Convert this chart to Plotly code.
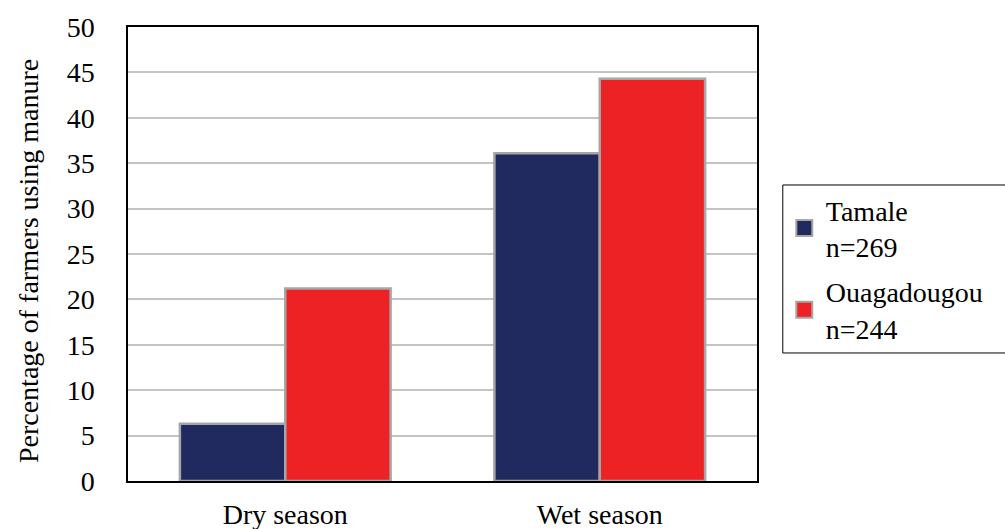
import plotly.graph_objects as go

# Share of farmers using manure, by season and city
seasons = ["Dry season", "Wet season"]
tamale = [6.3, 36.1]
ouagadougou = [21.2, 44.3]
legend_labels = ["Tamale<br>n=269", "Ouagadougou<br>n=244"]
y_title = "Percentage of farmers using manure"

navy = "#202a5e"
red = "#ed2224"
edge = "#a6a6a6"
font_family = "Liberation Serif"
fsize = 28

fig = go.Figure()
for name, vals, col in [("Tamale", tamale, navy), ("Ouagadougou", ouagadougou, red)]:
    fig.add_trace(go.Bar(
        x=seasons, y=vals, name=name, showlegend=False,
        marker=dict(color=col, line=dict(color=edge, width=2.5)),
    ))

# Legend entries with larger square swatches
for i, (label, col) in enumerate(zip(legend_labels, [navy, red])):
    fig.add_trace(go.Scatter(
        x=[None], y=[None], mode="markers", name=label,
        legendgroup=f"g{i}",
        marker=dict(symbol="square", size=16, color=col,
                    line=dict(color=edge, width=2)),
    ))

# Rotated y-axis title placed as an annotation
fig.add_annotation(
    text=y_title, textangle=-90, showarrow=False,
    xref="paper", yref="paper", x=-0.157, y=0.485,
    xanchor="center", yanchor="middle",
    font=dict(family=font_family, size=fsize, color="black"),
)

# Frame around the legend, running off the right edge
fig.add_shape(
    type="rect", xref="paper", yref="paper",
    x0=1.041, x1=1.45, y0=0.282, y1=0.652,
    line=dict(color="black", width=1), fillcolor="white", layer="below",
)

fig.update_layout(
    width=1005, height=529,
    margin=dict(l=128, r=248, t=27, b=48),
    paper_bgcolor="white", plot_bgcolor="rgba(0,0,0,0)",
    font=dict(family=font_family, size=fsize, color="black"),
    barmode="group", bargap=0.33, bargroupgap=0,
    legend=dict(
        x=1.041, y=0.652, xanchor="left", yanchor="top",
        borderwidth=0, bgcolor="rgba(0,0,0,0)",
        font=dict(family=font_family, size=fsize), tracegroupgap=6,
        itemsizing="trace", itemwidth=33,
    ),
    xaxis=dict(
        showline=True, linecolor="black", linewidth=1.5, mirror=True,
        ticks="", ticklabelstandoff=8, automargin=False,
        tickfont=dict(family=font_family, size=fsize),
        showgrid=False,
    ),
    yaxis=dict(
        range=[0, 50], dtick=5, tick0=0, automargin=False,
        showline=True, linecolor="black", linewidth=1.5, mirror=True,
        showgrid=True, gridcolor="#c4c4c4", gridwidth=1.5,
        zeroline=False, ticks="", ticklabelstandoff=26,
        tickfont=dict(family=font_family, size=fsize),
    ),
)

fig.write_html("out.html")
